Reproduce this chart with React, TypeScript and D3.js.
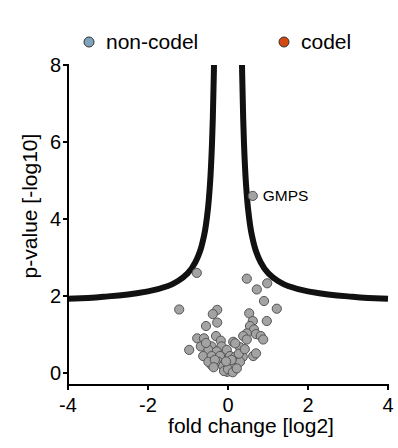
import React from "react";
import * as d3 from "d3";

// Significance threshold curve (right branch, |fold change| vs -log10 p); mirrored for the left branch
const thresholdX = [0.35, 0.38, 0.4, 0.45, 0.5, 0.6, 0.7, 0.8, 1.0, 1.25, 1.5, 2.0, 2.5, 3.0, 3.5, 4.0];
const thresholdY = [8.0, 6.6, 5.96, 4.91, 4.28, 3.56, 3.16, 2.91, 2.6, 2.39, 2.26, 2.12, 2.04, 1.99, 1.95, 1.93];

// Proteins: log2 fold change and -log10 p-value
const foldChange = [
  -0.78, 0.47, 0.98, 0.72, -1.22, 1.22, 0.9, -0.27, -0.38, 0.53, 0.62, 0.97, -0.55, -0.27, 0.55,
  0.65, 0.47, 0.7, 0.82, -0.3, 0.38, -0.77, -0.6, 0.88, 0.47, -0.18, 0.13, -0.97, -0.68, -0.41,
  -0.16, 0.3, 0.18, -0.49, -0.28, -0.03, -0.62, -0.41, -0.2, 0.05, 0.18, 0.37, 0.63, 0.7, -0.41,
  -0.24, -0.08, 0.05, 0.2, -0.03, -0.12, 0.09, -0.02, 0.13, -0.49, -0.33, 0.3, 0.09, 0.62,
  -0.1, 0.0, 0.12, -0.05, 0.22, 0.27, -0.36, -0.55, 0.42,
];
const pValue = [
  2.6, 2.45, 2.33, 2.17, 1.65, 1.67, 1.87, 1.64, 1.53, 1.55, 1.35, 1.35, 1.22, 1.31, 1.22,
  1.13, 1.03, 1.01, 0.96, 0.96, 0.96, 0.9, 0.9, 0.87, 0.87, 0.84, 0.81, 0.6, 0.69, 0.69,
  0.69, 0.67, 0.77, 0.6, 0.56, 0.6, 0.44, 0.44, 0.44, 0.44, 0.42, 0.42, 0.44, 0.51, 0.21,
  0.29, 0.25, 0.21, 0.25, 0.12, 0.18, 0.08, 0.03, 0.17, 0.29, 0.34, 0.29, 0.34, 4.6,
  0.05, 0.1, 0.02, 0.3, 0.12, 0.5, 0.15, 0.78, 0.62,
];
const labels = ["GMPS"];
const labelIndex = [58];

const xTicks = [-4, -2, 0, 2, 4];
const yTicks = [0, 2, 4, 6, 8];
const legendItems = ["non-codel", "codel"];
const legendColors = ["#7fa2bd", "#d4490f"];

export default function App() {
  const W = 398;
  const H = 448;
  const x = d3.scaleLinear().domain([-4, 4]).range([68, 388]);
  const y = d3.scaleLinear().domain([0, 8]).range([373, 65]);
  const axisY = 385;
  const font = "Liberation Sans, Arial, sans-serif";

  const line = d3
    .line<[number, number]>()
    .x((d) => x(d[0]))
    .y((d) => y(d[1]))
    .curve(d3.curveMonotoneY);
  const right: [number, number][] = thresholdX.map((v, i) => [v, thresholdY[i]]);
  const left: [number, number][] = thresholdX.map((v, i) => [-v, thresholdY[i]]);

  const points = foldChange.map((v, i) => ({ fx: v, p: pValue[i] }));

  return (
    <svg
      width={W}
      height={H}
      style={{ position: "absolute", left: 0, top: 0 }}
      fontFamily={font}
    >
      <defs>
        <clipPath id="plotClip">
          <rect x={60} y={65} width={335} height={320} />
        </clipPath>
      </defs>

      {/* legend */}
      {legendItems.map((t, i) => {
        const lx = i === 0 ? 89 : 284;
        return (
          <g key={t}>
            <circle cx={lx} cy={42} r={5} fill={legendColors[i]} stroke="#333" strokeWidth={1} />
            <text x={lx + 17} y={48.5} fontSize={21} fill="#000">
              {t}
            </text>
          </g>
        );
      })}

      {/* threshold curve */}
      <g clipPath="url(#plotClip)">
        <path d={line(right) ?? ""} fill="none" stroke="#111" strokeWidth={6} />
        <path d={line(left) ?? ""} fill="none" stroke="#111" strokeWidth={6} />
      </g>

      {/* protein points */}
      {points.map((d, i) => (
        <circle
          key={i}
          cx={x(d.fx)}
          cy={y(d.p)}
          r={4.6}
          fill="#a3a3a3"
          stroke="#555"
          strokeWidth={1}
        />
      ))}

      {labelIndex.map((idx, i) => (
        <text
          key={labels[i]}
          x={x(foldChange[idx]) + 10}
          y={y(pValue[idx]) + 5.5}
          fontSize={15.5}
          fill="#000"
        >
          {labels[i]}
        </text>
      ))}

      {/* axes */}
      <line x1={68} x2={68} y1={64} y2={axisY + 1} stroke="#000" strokeWidth={2} />
      <line x1={67} x2={389} y1={axisY} y2={axisY} stroke="#000" strokeWidth={2} />
      {yTicks.map((t) => (
        <g key={t}>
          <line x1={63} x2={68} y1={y(t)} y2={y(t)} stroke="#000" strokeWidth={2} />
          <text x={61} y={y(t) + 7} fontSize={20} textAnchor="end">
            {t}
          </text>
        </g>
      ))}
      {xTicks.map((t) => (
        <g key={t}>
          <line x1={x(t)} x2={x(t)} y1={axisY} y2={axisY + 5} stroke="#000" strokeWidth={2} />
          <text x={x(t)} y={412} fontSize={20} textAnchor="middle">
            {t}
          </text>
        </g>
      ))}
      <text x={251} y={433} fontSize={21} textAnchor="middle">
        fold change [log2]
      </text>
      <text
        transform={`translate(37,206) rotate(-90)`}
        fontSize={21}
        textAnchor="middle"
      >
        p-value [-log10]
      </text>
    </svg>
  );
}
